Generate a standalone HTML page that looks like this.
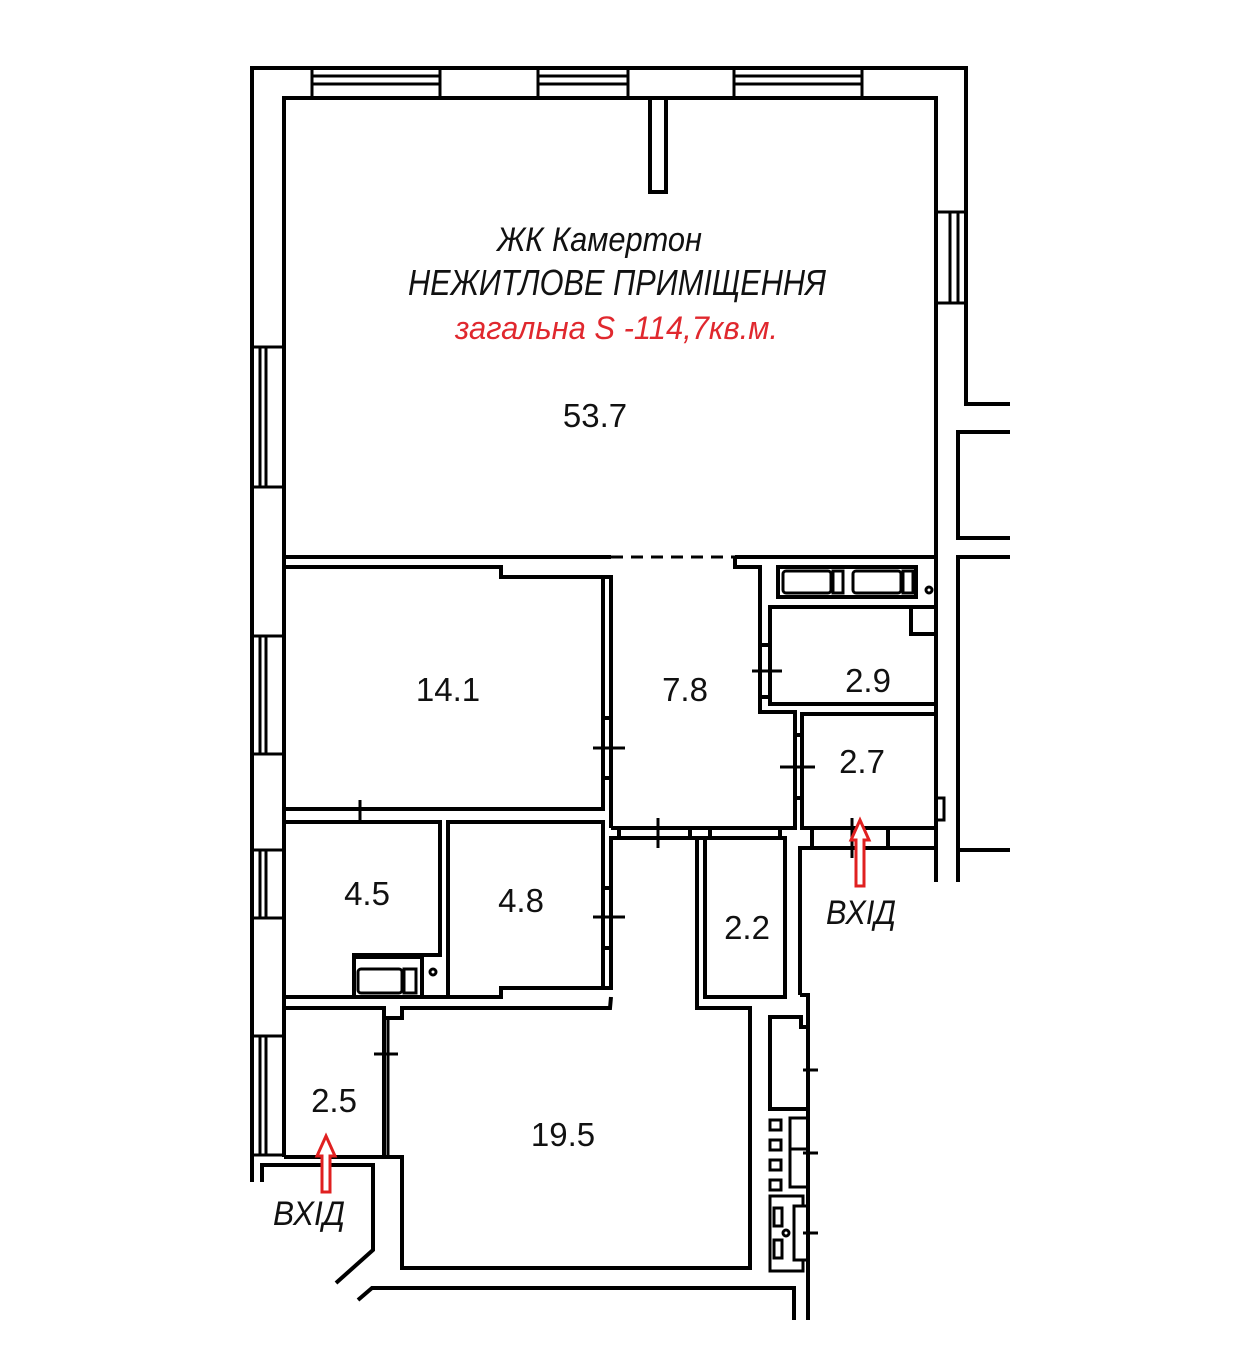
<!DOCTYPE html>
<html><head><meta charset="utf-8"><style>
html,body{margin:0;padding:0;background:#fff;}
svg{display:block}
text{font-family:"Liberation Sans",sans-serif;}
</style></head><body>
<svg width="1242" height="1372" viewBox="0 0 1242 1372" xmlns="http://www.w3.org/2000/svg">
<g fill="none" stroke="#000" stroke-width="4">
<!-- outer shell -->
<polyline points="252,1182 252,68 966,68 966,404 1010,404"/>
<polyline points="611,557 284,557 284,98 936,98 936,557 735,557"/>
<line x1="611" y1="557" x2="735" y2="557" stroke-dasharray="12,8" stroke-width="3"/>
<!-- top windows -->
<g stroke-width="3">
<rect x="312" y="68" width="128" height="30"/><line x1="312" y1="76" x2="440" y2="76"/><line x1="312" y1="84" x2="440" y2="84"/>
<rect x="538" y="68" width="90" height="30"/><line x1="538" y1="76" x2="628" y2="76"/><line x1="538" y1="84" x2="628" y2="84"/>
<rect x="734" y="68" width="128" height="30"/><line x1="734" y1="76" x2="862" y2="76"/><line x1="734" y1="84" x2="862" y2="84"/>
</g>
<polyline points="650,98 650,192 666,192 666,98"/>
<!-- right window -->
<rect x="936" y="212" width="30" height="91" stroke-width="3"/><line x1="950" y1="212" x2="950" y2="303" stroke-width="3"/><line x1="958" y1="212" x2="958" y2="303" stroke-width="3"/>
<!-- right neighbor -->
<polyline points="1010,432 958,432 958,538 1010,538"/>
<polyline points="1010,557 958,557 958,880"/>
<polyline points="1010,850 958,850 958,882"/>
<line x1="936" y1="557" x2="936" y2="882"/>
<!-- left windows -->
<g stroke-width="3">
<rect x="252" y="347" width="32" height="140"/><line x1="260" y1="347" x2="260" y2="487"/><line x1="266" y1="347" x2="266" y2="487"/>
<rect x="252" y="636" width="32" height="118"/><line x1="260" y1="636" x2="260" y2="754"/><line x1="266" y1="636" x2="266" y2="754"/>
<rect x="252" y="850" width="32" height="68"/><line x1="260" y1="850" x2="260" y2="918"/><line x1="266" y1="850" x2="266" y2="918"/>
<rect x="252" y="1036" width="32" height="119"/><line x1="260" y1="1036" x2="260" y2="1155"/><line x1="266" y1="1036" x2="266" y2="1155"/>
</g>
<line x1="284" y1="557" x2="284" y2="1157"/>
<!-- room 14.1 -->
<polyline points="284,567 501,567 501,577 611,577 611,828"/>
<polyline points="284,809 603,809 603,577"/>
<line x1="593" y1="748" x2="625" y2="748" stroke-width="3"/>
<line x1="603" y1="718" x2="611" y2="718"/><line x1="603" y1="778" x2="611" y2="778"/>
<line x1="360" y1="800" x2="360" y2="822" stroke-width="3"/>
<!-- room 4.5 -->
<polyline points="284,822 440,822 440,955 354,955 354,997"/>
<rect x="354" y="957" width="68" height="40"/>
<rect x="358" y="969" width="44" height="24" rx="3" stroke-width="3"/>
<rect x="404" y="969" width="12" height="24" stroke-width="3"/>
<circle cx="433" cy="972" r="3" stroke-width="3"/>
<!-- room 4.8 -->
<polyline points="501,997 448,997 448,822 603,822 603,988"/>
<line x1="593" y1="917" x2="625" y2="917" stroke-width="3"/>
<line x1="603" y1="888" x2="611" y2="888"/><line x1="603" y1="948" x2="611" y2="948"/>
<polyline points="284,997 501,997 501,988 611,988 611,838 697,838 697,1008 750,1008 750,1268 402,1268 402,1157 384,1157 384,1008 284,1008"/>
<polyline points="284,1008 384,1008 384,1018 402,1018 402,1008 610,1008 611,997"/>
<line x1="374" y1="1054" x2="398" y2="1054" stroke-width="3"/>
<line x1="388" y1="1018" x2="388" y2="1157" stroke-width="3"/>
<!-- room 2.5 entry -->
<polyline points="262,1182 262,1165 373,1165 373,1250 336,1283"/>
<line x1="284" y1="1157" x2="384" y2="1157"/>
<polyline points="358,1300 372,1288 794,1288 794,1320"/>
<!-- room 7.8 -->
<polyline points="735,557 735,567 760,567 760,712 795,712 795,828 611,828"/>
<line x1="658" y1="818" x2="658" y2="848" stroke-width="3"/>
<line x1="619" y1="828" x2="619" y2="838"/><line x1="690" y1="828" x2="690" y2="838"/><line x1="710" y1="828" x2="710" y2="838"/><line x1="780" y1="828" x2="780" y2="838"/>
<line x1="611" y1="838" x2="785" y2="838"/>
<!-- bath top -->
<rect x="778" y="567" width="138" height="30"/>
<g stroke-width="3">
<rect x="783" y="571" width="48" height="22" rx="3"/><rect x="833" y="571" width="10" height="22"/>
<rect x="853" y="571" width="48" height="22" rx="3"/><rect x="903" y="571" width="10" height="22"/>
<circle cx="929" cy="590" r="3"/>
</g>
<!-- room 2.9 -->
<rect x="770" y="607" width="166" height="97"/>
<polyline points="911,607 911,634 936,634"/>
<line x1="752" y1="671" x2="782" y2="671" stroke-width="3"/>
<line x1="760" y1="645" x2="770" y2="645"/><line x1="760" y1="697" x2="770" y2="697"/>
<!-- room 2.7 -->
<rect x="802" y="714" width="134" height="114"/>
<line x1="780" y1="767" x2="815" y2="767" stroke-width="3"/>
<line x1="795" y1="735" x2="802" y2="735"/><line x1="795" y1="798" x2="802" y2="798"/>
<rect x="936" y="798" width="8" height="22" stroke-width="3"/>
<line x1="812" y1="828" x2="812" y2="848"/><line x1="888" y1="828" x2="888" y2="848"/>
<line x1="852" y1="818" x2="852" y2="858" stroke-width="3"/>
<polyline points="800,995 800,848 936,848 936,882"/>
<!-- room 2.2 -->
<rect x="705" y="838" width="80" height="159"/>
<!-- right wall lower -->
<polyline points="800,995 808,995 808,1320"/>
<polyline points="808,1027 801,1027 801,1017 770,1017 770,1109 806,1109"/>
<g stroke-width="3">
<rect x="770" y="1120" width="11" height="10"/><rect x="770" y="1140" width="11" height="10"/><rect x="770" y="1160" width="11" height="10"/><rect x="770" y="1180" width="11" height="10"/>
<rect x="790" y="1118" width="18" height="69"/><line x1="790" y1="1149" x2="808" y2="1149"/>
<polyline points="803,1205 803,1196 770,1196 770,1271 803,1271 803,1260"/>
<rect x="794" y="1206" width="14" height="54"/>
<rect x="774" y="1208" width="8" height="18"/><rect x="774" y="1240" width="8" height="18"/>
<circle cx="786" cy="1233" r="3"/>
<line x1="803" y1="1070" x2="818" y2="1070"/><line x1="803" y1="1153" x2="818" y2="1153"/><line x1="803" y1="1233" x2="818" y2="1233"/>
</g>
</g>
<!-- arrows -->
<g fill="#fff" stroke="#e02020" stroke-width="3">
<polygon points="860,820 869,840 864,840 864,886 856,886 856,840 851,840"/>
<polygon points="326,1136 335,1156 330,1156 330,1192 322,1192 322,1156 317,1156"/>
</g>
<!-- text -->
<g font-style="italic" fill="#111">
<text x="497" y="251" font-size="34" textLength="205" lengthAdjust="spacingAndGlyphs">ЖК Камертон</text>
<text x="408" y="295" font-size="36" textLength="418" lengthAdjust="spacingAndGlyphs">НЕЖИТЛОВЕ ПРИМІЩЕННЯ</text>
<text x="455" y="339" font-size="32" fill="#e0282e" textLength="323" lengthAdjust="spacingAndGlyphs">загальна S -114,7кв.м.</text>
<text x="826" y="924" font-size="34" textLength="70" lengthAdjust="spacingAndGlyphs">ВХІД</text>
<text x="273" y="1225" font-size="34" textLength="72" lengthAdjust="spacingAndGlyphs">ВХІД</text>
</g>
<g font-size="33" fill="#111" text-anchor="middle">
<text x="595" y="427">53.7</text>
<text x="448" y="701">14.1</text>
<text x="685" y="701">7.8</text>
<text x="868" y="692">2.9</text>
<text x="862" y="773">2.7</text>
<text x="367" y="905">4.5</text>
<text x="521" y="912">4.8</text>
<text x="747" y="939">2.2</text>
<text x="334" y="1112">2.5</text>
<text x="563" y="1146">19.5</text>
</g>
</svg>
</body></html>
